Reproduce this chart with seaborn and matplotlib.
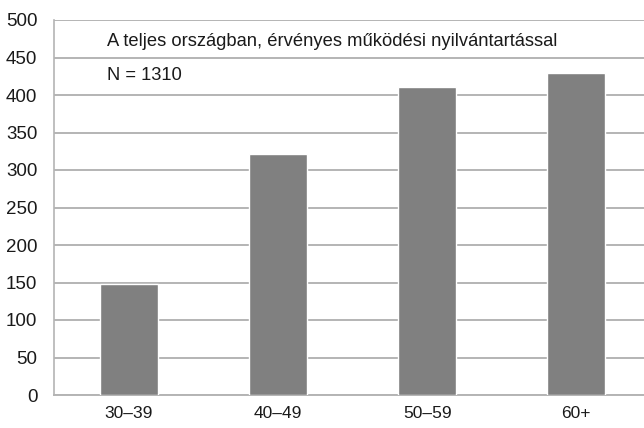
import matplotlib
matplotlib.use("Agg")
import matplotlib.pyplot as plt
import seaborn as sns
import pandas as pd

# korcsoportok és darabszámok
age_groups = ["30–39", "40–49", "50–59", "60+"]
counts = [148, 321, 411, 430]
y_ticks = [0, 50, 100, 150, 200, 250, 300, 350, 400, 450, 500]
note_title = "A teljes országban, érvényes működési nyilvántartással"
note_n = "N = 1310"

df = pd.DataFrame({"kor": age_groups, "db": counts})

sns.set_style("white")
plt.rcParams["font.family"] = ["Liberation Sans", "DejaVu Sans"]

W, H = 644, 428
fig = plt.figure(figsize=(W / 100, H / 100), dpi=100)
ax = fig.add_axes([54 / W, 1 - 395 / H, 597 / W, 375 / H])

sns.barplot(data=df, x="kor", y="db", color="#808080", width=0.39,
            saturation=1, ax=ax, zorder=3)

ax.set_ylim(0, 500)
ax.set_xlim(-0.5, 3.5)
ax.set_yticks(y_ticks)
ax.yaxis.grid(True, color="#b4b4b4", linewidth=1.4, zorder=0)
ax.set_axisbelow(True)
ax.set_xlabel("")
ax.set_ylabel("")

for side in ["top", "right"]:
    ax.spines[side].set_visible(False)
ax.spines["left"].set_color("#b4b4b4")
ax.spines["left"].set_linewidth(1.2)
ax.spines["bottom"].set_color("#b4b4b4")
ax.spines["bottom"].set_linewidth(1.4)

ax.tick_params(axis="y", length=0, labelsize=13.5, pad=12, colors="#1a1a1a")
ax.tick_params(axis="x", length=0, labelsize=12.5, pad=8, colors="#1a1a1a")

# kategóriahatárokon lefelé mutató kis osztások
ax.set_xticks([-0.5, 0.5, 1.5, 2.5], minor=True)
ax.tick_params(axis="x", which="minor", length=5, width=1.2, color="#b4b4b4",
               direction="out")

fig.text(107 / W, 1 - 41 / H, note_title, fontsize=13.2, va="center",
         color="#1a1a1a")
fig.text(107 / W, 1 - 75 / H, note_n, fontsize=13.2, va="center",
         color="#1a1a1a")

fig.savefig("out.png", dpi=100)
